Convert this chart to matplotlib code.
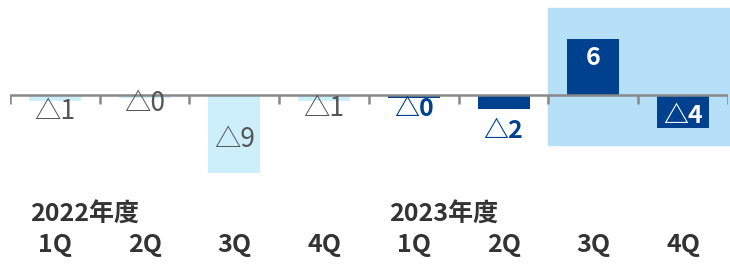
import matplotlib
matplotlib.use("Agg")
import matplotlib.pyplot as plt
from matplotlib.patches import Rectangle
import matplotlib.transforms as mtransforms

plt.rcParams['font.family'] = ['Noto Sans CJK JP', 'DejaVu Sans']

quarters = ["1Q", "2Q", "3Q", "4Q", "1Q", "2Q", "3Q", "4Q"]
years = ["2022年度", "2023年度"]
valores = [-0.7, -0.3, -8.7, -0.7, -0.3, -1.6, 6.2, -3.7]
rotulos = ["△1", "△0", "△9", "△1", "△0", "△2", "6", "△4"]

cor_clara = "#cdeffb"
cor_escura = "#00418f"
cor_fundo = "#b5e0f8"

fig = plt.figure(figsize=(7.3, 2.64), dpi=100)
ax = fig.add_axes([10 / 730, 1 - 180 / 264, 718 / 730, 175 / 264])
ax.set_xlim(-0.5, 7.5)
ax.set_ylim(-85 / 9, 90 / 9)
ax.axis("off")

# destaque do 2S 2023
ax.add_patch(Rectangle((5.5, -5.55), 2.03, 15.2, color=cor_fundo, zorder=0, clip_on=False))

x = list(range(len(valores)))
cores = [cor_clara] * 4 + [cor_escura] * 4
ax.bar(x, valores, width=0.58, color=cores, zorder=2)

# eixo com marcas
ax.axhline(0, color="#888888", lw=1.8, zorder=3)
for b in [i - 0.5 for i in range(9)]:
    ax.plot([b, b], [0, -0.95], color="#888888", lw=1.8, zorder=3, solid_capstyle="butt")

# rotulos de valor
pos_rotulo = [-1.8, -0.9, -5.0, -1.55, -1.55, -3.95, 4.1, -2.35]
for i, (v, r) in enumerate(zip(valores, rotulos)):
    if i < 4:
        ax.text(i, pos_rotulo[i], r, ha="center", va="center", fontsize=19,
                color="#555555", zorder=4)
    else:
        cor = "white" if i in (6, 7) else cor_escura
        ax.text(i, pos_rotulo[i], r, ha="center", va="center", fontsize=18,
                color=cor, fontweight="bold", zorder=4)

trans = mtransforms.blended_transform_factory(ax.transData, fig.transFigure)
for i, q in enumerate(quarters):
    ax.text(i, 1 - 245 / 264, q, transform=trans, ha="center", va="center",
            fontsize=18, fontweight="bold", color="#333333")
for k, y in enumerate(years):
    ax.text(k * 4 - 0.28, 1 - 215 / 264, y, transform=trans, ha="left", va="center",
            fontsize=18, fontweight="bold", color="#333333")

fig.savefig("out.png", dpi=100)
